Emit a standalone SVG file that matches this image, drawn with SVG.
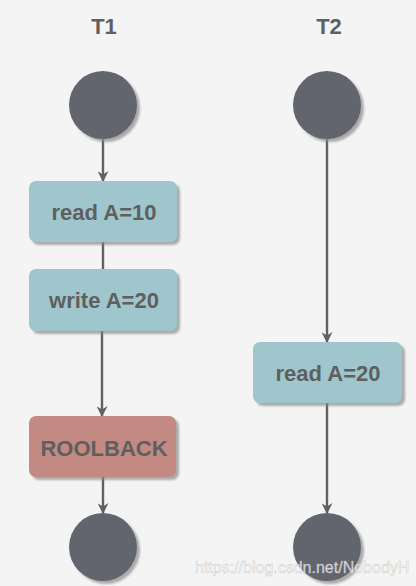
<svg xmlns="http://www.w3.org/2000/svg" width="416" height="586" viewBox="0 0 416 586">
<defs>
<style>
.lbl{font-family:"Liberation Sans",Arial,sans-serif;font-weight:bold;font-size:22px;fill:#5f5f5f;text-anchor:middle}
.box{fill:#9ec6cc;filter:url(#sh)}
.red{fill:#c38a83;filter:url(#sh)}
.dot{fill:#62656d;filter:url(#sh)}
.ln{stroke:#616161;stroke-width:2.4;fill:none}
</style>
<filter id="sh" x="-20%" y="-20%" width="150%" height="150%">
<feDropShadow dx="3" dy="3" stdDeviation="1" flood-color="#8a8a8a" flood-opacity="0.7"/>
</filter>
<marker id="ar" viewBox="0 0 10 10" refX="9" refY="5" markerWidth="11" markerHeight="11" markerUnits="userSpaceOnUse" orient="auto">
<path d="M0,0 L10,5 L0,10 L3,5 z" fill="#616161"/>
</marker>
</defs>
<rect width="416" height="586" fill="#f4f4f4"/>
<text class="lbl" x="104" y="34">T1</text>
<text class="lbl" x="329" y="34">T2</text>
<g id="connectors">
<line class="ln" x1="103" y1="139" x2="103" y2="181" marker-end="url(#ar)"/>
<line class="ln" x1="103" y1="242" x2="103" y2="270"/>
<line class="ln" x1="102" y1="331" x2="102" y2="416" marker-end="url(#ar)"/>
<line class="ln" x1="103" y1="477" x2="103" y2="513" marker-end="url(#ar)"/>
<line class="ln" x1="327" y1="139" x2="327" y2="342" marker-end="url(#ar)"/>
<line class="ln" x1="327" y1="403" x2="327" y2="513" marker-end="url(#ar)"/>
</g>
<g id="start1"><circle class="dot" cx="103" cy="105" r="34"/></g>
<g id="start2"><circle class="dot" cx="327" cy="105" r="34"/></g>
<g id="read10"><rect class="box" x="29" y="181" width="148" height="61" rx="7"/><text class="lbl" x="104" y="220">read A=10</text></g>
<g id="write20"><rect class="box" x="29" y="269" width="148" height="62" rx="7"/><text class="lbl" x="104" y="308">write A=20</text></g>
<g id="rollback"><rect class="red" x="29" y="416" width="147" height="61" rx="7"/><text class="lbl" x="104" y="456">ROOLBACK</text></g>
<g id="read20"><rect class="box" x="253" y="342" width="149" height="61" rx="7"/><text class="lbl" x="328" y="381">read A=20</text></g>
<g id="end1"><circle class="dot" cx="103" cy="547" r="34"/></g>
<g id="end2"><circle class="dot" cx="327" cy="547" r="34"/></g>
<text x="195" y="573" style="font-family:'Liberation Sans',Arial,sans-serif;font-size:16px;fill:#ffffff;fill-opacity:0.75;stroke:#bdbdbd;stroke-width:0.5;stroke-opacity:0.8">https://blog.csdn.net/NobodyH</text>
</svg>
